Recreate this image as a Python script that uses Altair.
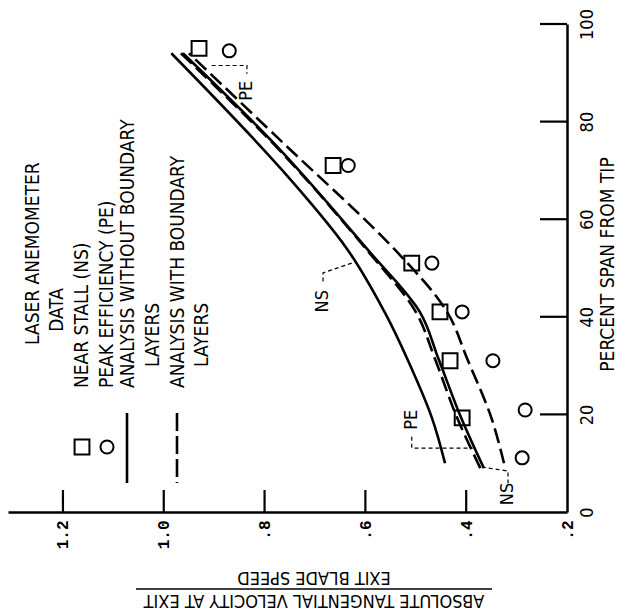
import altair as alt
import pandas as pd

# ---------------- data ----------------
# laser anemometer data: percent span from tip, velocity ratio
ns_span = [95, 71, 51, 41, 31, 19.3]
ns_ratio = [0.93, 0.664, 0.508, 0.452, 0.432, 0.408]
pe_span = [94.5, 71, 51, 41, 31, 20.9, 11.1]
pe_ratio = [0.87, 0.634, 0.468, 0.408, 0.347, 0.283, 0.289]

# analysis curves
a_span = [10, 19.3, 31.4, 41, 53.7, 70.5, 94]          # NS, without boundary layers
a_ratio = [0.442, 0.468, 0.517, 0.562, 0.635, 0.769, 0.985]
b_span = [9, 19.3, 31.4, 41, 53.7, 74.2, 94]           # PE, without boundary layers
b_ratio = [0.365, 0.41, 0.455, 0.492, 0.595, 0.769, 0.962]
c_span = [9, 19.3, 31.4, 41, 53.7, 74.0, 94]           # NS, with boundary layers
c_ratio = [0.372, 0.418, 0.462, 0.50, 0.597, 0.769, 0.966]
d_span = [10, 19.3, 31.4, 41, 53.7, 76.2, 94]          # PE, with boundary layers
d_ratio = [0.325, 0.35, 0.398, 0.438, 0.541, 0.769, 0.95]

x_ticks = [0.4, 0.6, 0.8, 1.0, 1.2]
y_ticks = [20, 40, 60, 80, 100]

W, H = 559, 488
FONT = "DejaVu Sans Condensed, Liberation Sans Narrow, Arial Narrow, sans-serif"
MONO = "Liberation Mono, DejaVu Sans Mono, monospace"

xs = alt.Scale(domain=[1.309, 0.2], nice=False, zero=False)
ys = alt.Scale(domain=[0, 100], nice=False, zero=False)

def curve_df(span, ratio, name):
    return pd.DataFrame({"s": span, "v": ratio, "curve": name})

curves = pd.concat([
    curve_df(a_span, a_ratio, "A"),
    curve_df(b_span, b_ratio, "B"),
    curve_df(c_span, c_ratio, "C"),
    curve_df(d_span, d_ratio, "D"),
])

base_x = alt.X("v:Q", scale=xs,
               axis=alt.Axis(values=[0.2, 0.4, 0.6, 0.8, 1.0, 1.2], ticks=False, grid=False,
                             domainColor="black", domainWidth=2.5, title=None,
                             labelExpr="datum.value >= 1 ? format(datum.value, '.1f') : replace(format(datum.value, '.1f'), '0.', '.')",
                             labelAngle=270, labelAlign="right", labelBaseline="middle",
                             labelFont=MONO, labelFontWeight="bold", labelFontSize=16,
                             labelColor="black", labelPadding=8))
base_y = alt.Y("s:Q", scale=ys,
               axis=alt.Axis(orient="right", values=[0, 20, 40, 60, 80, 100], ticks=False, grid=False,
                             domainColor="black", domainWidth=2.5,
                             title="PERCENT SPAN FROM TIP", titleAngle=270, titleX=40, titleY=240,
                             titleAlign="center", titleBaseline="middle",
                             titleFont=FONT, titleFontSize=19, titleFontWeight="normal", titleColor="black",
                             labelAngle=270, labelAlign="center", labelBaseline="top",
                             labelFont=FONT, labelFontSize=18, labelColor="black", labelPadding=11))

solid = alt.Chart(curves[curves.curve.isin(["A", "B"])]).mark_line(
    color="black", strokeWidth=2.6, interpolate="catmull-rom"
).encode(x=base_x, y=base_y, detail="curve:N", order="s:Q")

dashed = alt.Chart(curves[curves.curve.isin(["C", "D"])]).mark_line(
    color="black", strokeWidth=2.6, strokeDash=[15, 6], interpolate="catmull-rom"
).encode(x=alt.X("v:Q", scale=xs), y=alt.Y("s:Q", scale=ys), detail="curve:N", order="s:Q")

squares = alt.Chart(pd.DataFrame({"s": ns_span, "v": ns_ratio})).mark_point(
    shape="square", size=220, filled=False, color="black", strokeWidth=2, opacity=1
).encode(x=alt.X("v:Q", scale=xs), y=alt.Y("s:Q", scale=ys))

circles = alt.Chart(pd.DataFrame({"s": pe_span, "v": pe_ratio})).mark_point(
    shape="circle", size=170, filled=False, color="black", strokeWidth=2, opacity=1
).encode(x=alt.X("v:Q", scale=xs), y=alt.Y("s:Q", scale=ys))

# inward tick marks
xtick = alt.Chart(pd.DataFrame({"v": x_ticks})).mark_rule(color="black", strokeWidth=2.2).encode(
    x=alt.X("v:Q", scale=xs), y=alt.value(H - 22), y2=alt.value(H))
ytick = alt.Chart(pd.DataFrame({"s": y_ticks})).mark_rule(color="black", strokeWidth=2.2).encode(
    y=alt.Y("s:Q", scale=ys), x=alt.value(W - 27), x2=alt.value(W))

# curve labels with dashed leaders
leaders = pd.DataFrame({
    "v": [0.627, 0.684, 0.684, 0.508, 0.508, 0.387, 0.369, 0.317, 0.317, 0.905, 0.835, 0.835],
    "s": [51.0, 49.0, 47.0, 15.4, 13.1, 13.1, 9.2, 8.4, 5.9, 91.5, 91.5, 89.8],
    "g": ["n1"] * 3 + ["p1"] * 3 + ["n2"] * 3 + ["p2"] * 3,
    "o": [0, 1, 2] * 4,
})
leader_lines = alt.Chart(leaders).mark_line(color="black", strokeWidth=1.2, strokeDash=[4, 3]).encode(
    x=alt.X("v:Q", scale=xs), y=alt.Y("s:Q", scale=ys), detail="g:N", order="o:Q")
curve_labels = pd.DataFrame({
    "v": [0.684, 0.508, 0.317, 0.835],
    "s": [43.2, 18.9, 3.7, 86.3],
    "t": ["NS", "PE", "NS", "PE"],
})
curve_text = alt.Chart(curve_labels).mark_text(
    angle=270, align="center", baseline="middle", font=FONT, fontSize=18, color="black"
).encode(x=alt.X("v:Q", scale=xs), y=alt.Y("s:Q", scale=ys), text="t:N")

# ---------------- legend (rotated) ----------------
def P(px, py):
    return px - 8, py - 24

legend_rows = [
    ("LASER ANEMOMETER", 33, 345, "left"),
    ("DATA", 57, 310, "center"),
    ("NEAR STALL (NS)", 82, 388, "left"),
    ("PEAK EFFICIENCY (PE)", 107, 388, "left"),
    ("ANALYSIS WITHOUT BOUNDARY", 128, 388, "left"),
    ("LAYERS", 153, 367, "left"),
    ("ANALYSIS WITH BOUNDARY", 178, 388, "left"),
    ("LAYERS", 202, 367, "left"),
]
legend_layers = []
for txt, px, py, al in legend_rows:
    x0, y0 = P(px, py)
    legend_layers.append(
        alt.Chart(pd.DataFrame({"t": [txt]})).mark_text(
            angle=270, align=al, baseline="middle", font=FONT, fontSize=19, color="black"
        ).encode(x=alt.value(x0), y=alt.value(y0), text="t:N"))

sx, sy = P(82, 447)
legend_layers.append(alt.Chart(pd.DataFrame({"k": ["NS"]})).mark_point(
    shape="square", size=220, filled=False, color="black", strokeWidth=2, opacity=1
).encode(x=alt.value(sx), y=alt.value(sy)))
cx, cy = P(107, 447)
legend_layers.append(alt.Chart(pd.DataFrame({"k": ["PE"]})).mark_point(
    shape="circle", size=170, filled=False, color="black", strokeWidth=2, opacity=1
).encode(x=alt.value(cx), y=alt.value(cy)))
lx, ly1 = P(127, 413)
_, ly2 = P(127, 483)
legend_layers.append(alt.Chart(pd.DataFrame({"k": ["solid"]})).mark_rule(
    color="black", strokeWidth=2.6).encode(x=alt.value(lx), y=alt.value(ly1), y2=alt.value(ly2)))
dx, _ = P(177, 413)
legend_layers.append(alt.Chart(pd.DataFrame({"k": ["dash"]})).mark_rule(
    color="black", strokeWidth=2.6, strokeDash=[18, 5]).encode(x=alt.value(dx), y=alt.value(ly1), y2=alt.value(ly2)))

# ---------------- bottom (fraction) title, upside down ----------------
tx, ty1 = P(314, 577)
_, ty2 = P(314, 600)
fx1, fy = P(136, 589)
fx2, _ = P(492, 589)
title_layers = [
    alt.Chart(pd.DataFrame({"t": ["EXIT BLADE SPEED"]})).mark_text(
        angle=180, align="center", baseline="middle", font=FONT, fontSize=18, color="black"
    ).encode(x=alt.value(tx), y=alt.value(ty1), text="t:N"),
    alt.Chart(pd.DataFrame({"t": ["ABSOLUTE TANGENTIAL VELOCITY AT EXIT"]})).mark_text(
        angle=180, align="center", baseline="middle", font=FONT, fontSize=18, color="black"
    ).encode(x=alt.value(tx), y=alt.value(ty2), text="t:N"),
    alt.Chart(pd.DataFrame({"k": ["bar"]})).mark_rule(color="black", strokeWidth=1.6).encode(
        x=alt.value(fx1), x2=alt.value(fx2), y=alt.value(fy)),
]

chart = alt.layer(
    solid, dashed, squares, circles, xtick, ytick, leader_lines, curve_text,
    *legend_layers, *title_layers
).properties(
    width=W, height=H,
    autosize=alt.AutoSizeParams(type="none"),
    padding={"left": 0, "top": 16, "right": 51, "bottom": 100},
    background="white",
).configure_view(stroke=None)

chart.save("out.html", embed_options={"renderer": "svg", "actions": False})
